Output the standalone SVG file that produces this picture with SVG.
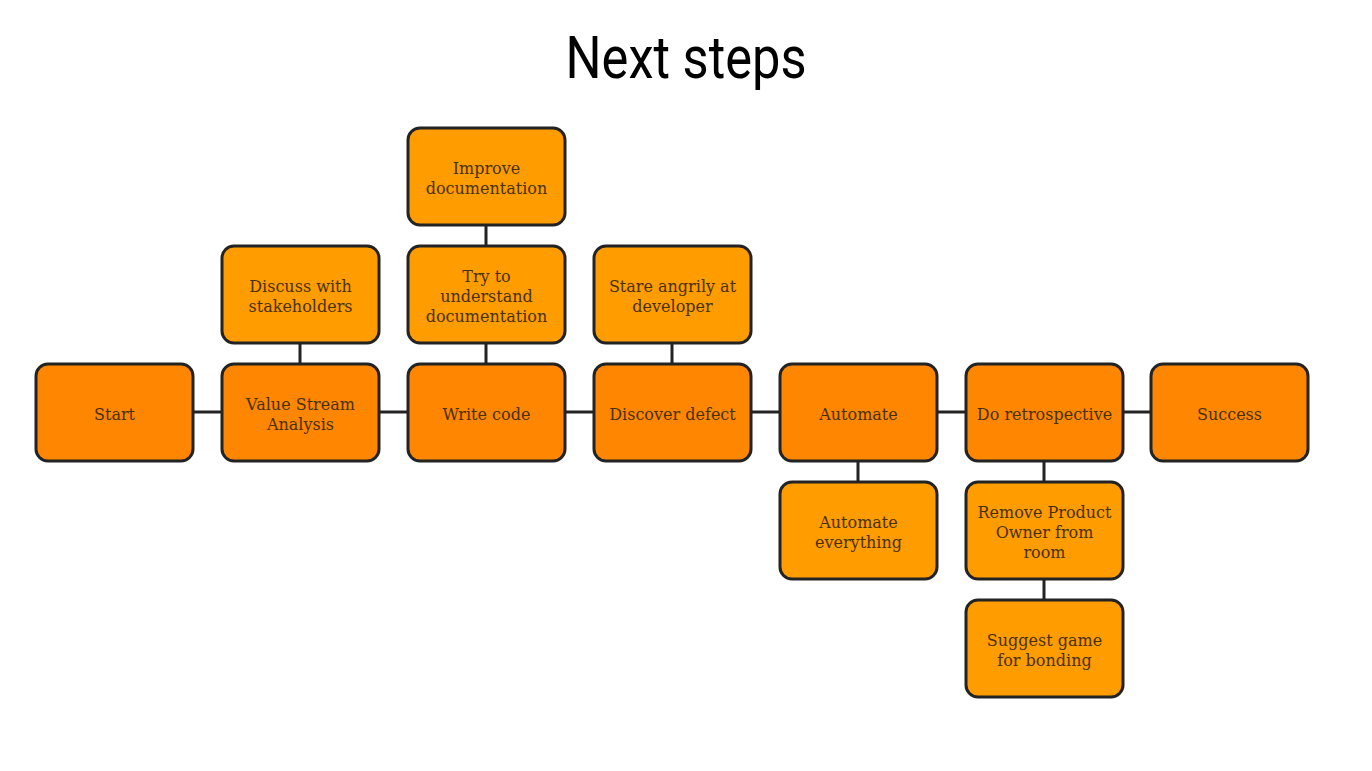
<svg xmlns="http://www.w3.org/2000/svg" width="1372" height="771" viewBox="0 0 1372 771">
<style>
.main rect{fill:#FF8600;stroke:#232323;stroke-width:3}
.sub rect{fill:#FF9C00;stroke:#232323;stroke-width:3}
text.l{font-family:"DejaVu Serif","Liberation Serif",serif;font-size:16px;fill:#4a3104;text-anchor:middle}
.c line{stroke:#232323;stroke-width:3}
</style>
<rect width="1372" height="771" fill="#fff"/>
<text x="686" y="78" font-family="Roboto,'Liberation Sans',sans-serif" font-size="60" text-anchor="middle" textLength="241" lengthAdjust="spacingAndGlyphs" fill="#000">Next steps</text>
<g class="c">
<line x1="193" y1="412" x2="222" y2="412"/>
<line x1="379" y1="412" x2="408" y2="412"/>
<line x1="565" y1="412" x2="594" y2="412"/>
<line x1="751" y1="412" x2="780" y2="412"/>
<line x1="937" y1="412" x2="966" y2="412"/>
<line x1="1123" y1="412" x2="1151" y2="412"/>
<line x1="300" y1="343" x2="300" y2="364"/>
<line x1="486" y1="225" x2="486" y2="246"/>
<line x1="486" y1="343" x2="486" y2="364"/>
<line x1="672" y1="343" x2="672" y2="364"/>
<line x1="858" y1="461" x2="858" y2="482"/>
<line x1="1044" y1="461" x2="1044" y2="482"/>
<line x1="1044" y1="579" x2="1044" y2="600"/>
</g>
<g id="start" class="main"><rect x="36" y="364" width="157" height="97" rx="12"/><text class="l" x="114.5" y="420">Start</text></g>
<g id="vsa" class="main"><rect x="222" y="364" width="157" height="97" rx="12"/><text class="l" x="300.5" y="410">Value Stream</text><text class="l" x="300.5" y="430">Analysis</text></g>
<g id="write" class="main"><rect x="408" y="364" width="157" height="97" rx="12"/><text class="l" x="486.5" y="420">Write code</text></g>
<g id="defect" class="main"><rect x="594" y="364" width="157" height="97" rx="12"/><text class="l" x="672.5" y="420">Discover defect</text></g>
<g id="automate" class="main"><rect x="780" y="364" width="157" height="97" rx="12"/><text class="l" x="858.5" y="420">Automate</text></g>
<g id="retro" class="main"><rect x="966" y="364" width="157" height="97" rx="12"/><text class="l" x="1044.5" y="420">Do retrospective</text></g>
<g id="success" class="main"><rect x="1151" y="364" width="157" height="97" rx="12"/><text class="l" x="1229.5" y="420">Success</text></g>
<g id="discuss" class="sub"><rect x="222" y="246" width="157" height="97" rx="12"/><text class="l" x="300.5" y="292">Discuss with</text><text class="l" x="300.5" y="312">stakeholders</text></g>
<g id="improve" class="sub"><rect x="408" y="128" width="157" height="97" rx="12"/><text class="l" x="486.5" y="174">Improve</text><text class="l" x="486.5" y="194">documentation</text></g>
<g id="try" class="sub"><rect x="408" y="246" width="157" height="97" rx="12"/><text class="l" x="486.5" y="282">Try to</text><text class="l" x="486.5" y="302">understand</text><text class="l" x="486.5" y="322">documentation</text></g>
<g id="stare" class="sub"><rect x="594" y="246" width="157" height="97" rx="12"/><text class="l" x="672.5" y="292">Stare angrily at</text><text class="l" x="672.5" y="312">developer</text></g>
<g id="autoall" class="sub"><rect x="780" y="482" width="157" height="97" rx="12"/><text class="l" x="858.5" y="528">Automate</text><text class="l" x="858.5" y="548">everything</text></g>
<g id="remove" class="sub"><rect x="966" y="482" width="157" height="97" rx="12"/><text class="l" x="1044.5" y="518">Remove Product</text><text class="l" x="1044.5" y="538">Owner from</text><text class="l" x="1044.5" y="558">room</text></g>
<g id="suggest" class="sub"><rect x="966" y="600" width="157" height="97" rx="12"/><text class="l" x="1044.5" y="646">Suggest game</text><text class="l" x="1044.5" y="666">for bonding</text></g>
</svg>
